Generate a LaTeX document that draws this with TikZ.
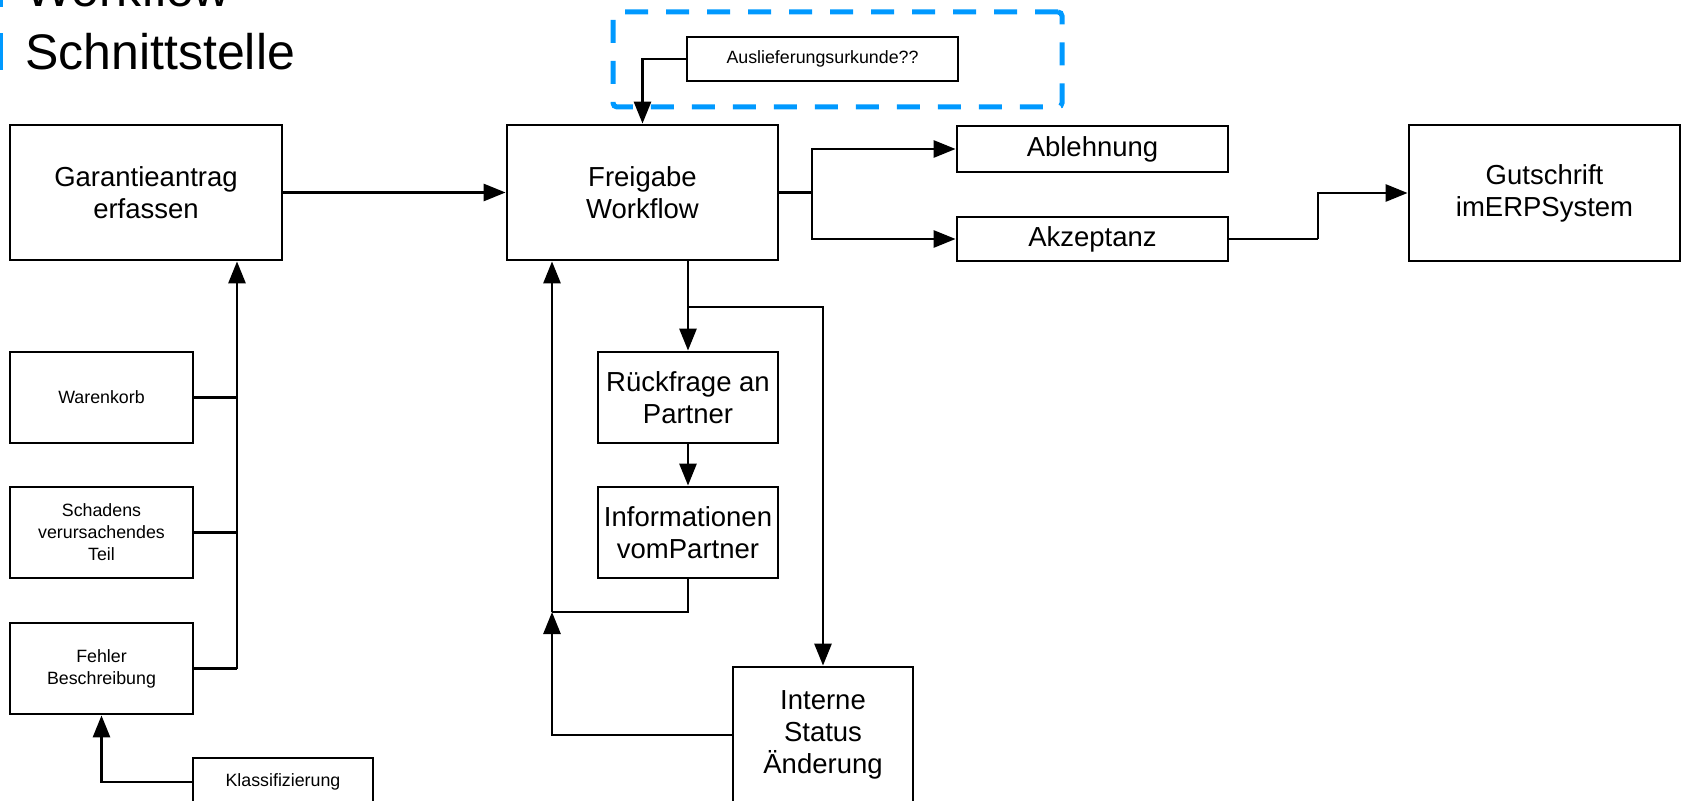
\documentclass[tikz,border=0pt]{standalone}
\usepackage{fontspec}
\setmainfont{Liberation Sans}
\usetikzlibrary{arrows.meta,calc}
\definecolor{legblue}{RGB}{0,153,255}
\begin{document}
\begin{tikzpicture}[x=0.5pt,y=-0.5pt,
  box/.style={draw, line width=1.4pt, inner sep=0pt, align=center, anchor=center},
  big/.style={font=\fontsize{13.75}{16}\selectfont},
  small/.style={font=\fontsize{8.9}{11}\selectfont},
  arr/.style={-{Triangle[length=11pt,width=8.5pt]}, line width=1.4pt},
  ln/.style={line width=1.4pt},
  grpbox/.style={draw=legblue, line width=2.5pt, dash pattern=on 11.5pt off 9pt, rounded corners=2pt, inner sep=0pt, anchor=center},
  legtext/.style={anchor=base west, inner sep=0pt, font=\fontsize{25}{30}\selectfont}
]
\useasboundingbox (0,0) rectangle (1685,801);
\clip (0,0) rectangle (1685,801);

% legend
\fill[legblue] (-10,-30) rectangle (3,7);
\fill[legblue] (-10,33) rectangle (3,70);
\node[legtext] (lw) at (25,7) {Workflow};
\node[legtext] (ls) at (25,70) {Schnittstelle};

% group box
\node[grpbox, minimum width=224.5pt, minimum height=47.5pt] (grp) at (837.5,59.5) {};

% nodes
\node[box,big,minimum width=136pt,minimum height=67.5pt] (gar) at (146,192.5) {Garantieantrag\\erfassen};
\node[box,big,minimum width=135.5pt,minimum height=67.5pt] (fre) at (642.5,192.5) {Freigabe\\Workflow};
\node[box,big,minimum width=135.5pt,minimum height=68pt] (gut) at (1544.5,193) {Gutschrift\\imERPSystem};
\node[box,big,minimum width=135.5pt,minimum height=23pt] (abl) at (1092.5,149) {Ablehnung};
\node[box,big,minimum width=135.5pt,minimum height=22pt] (akz) at (1092.5,239) {Akzeptanz};
\node[box,small,minimum width=135.5pt,minimum height=22pt] (aus) at (822.5,59) {Auslieferungsurkunde??};
\node[box,small,minimum width=91.5pt,minimum height=45.5pt] (war) at (101.5,397.5) {Warenkorb};
\node[box,small,minimum width=91.5pt,minimum height=45.5pt] (sch) at (101.5,532.5) {Schadens\\verursachendes\\Teil};
\node[box,small,minimum width=91.5pt,minimum height=45.5pt] (feh) at (101.5,668.5) {Fehler\\Beschreibung};
\node[box,small,minimum width=90pt,minimum height=24pt] (kla) at (283,782) {Klassifizierung};
\node[box,big,minimum width=90pt,minimum height=45.5pt] (rue) at (688,397.5) {Rückfrage an\\Partner};
\node[box,big,minimum width=90pt,minimum height=45.5pt] (inf) at (688,532.5) {Informationen\\vomPartner};
\node[box,big,minimum width=90pt,minimum height=68pt] (int) at (823,735) {Interne\\Status\\Änderung};

% junction coordinates
\coordinate (bus) at (237,668.5);
\coordinate (j1) at (812,192.5);
\coordinate (j2) at (688,307);
\coordinate (j3) at (552,612);
\coordinate (j4) at (1318,239);

% connectors
\draw[arr] (gar.east) -- (fre.west);
\draw[arr] (aus.west) -| (fre.north);
\draw[ln] (fre.east) -- (j1);
\draw[arr] (j1) |- (abl.west);
\draw[arr] (j1) |- (akz.west);
\draw[ln] (akz.east) -- (j4);
\draw[arr] (j4) |- (gut.west);

\draw[ln] (war.east) -- (war.east -| bus);
\draw[ln] (sch.east) -- (sch.east -| bus);
\draw[ln] (feh.east) -- (bus);
\draw[arr] (bus) -- (bus |- gar.south);
\draw[arr] (kla.west) -| (feh.south);

\draw[arr] (fre.south -| rue.north) -- (rue.north);
\draw[arr] (j2) -| (int.north);
\draw[arr] (rue.south) -- (inf.north);
\draw[ln] (inf.south) |- (j3);
\draw[arr] (j3) -- (j3 |- fre.south);
\draw[arr] (int.west) -| (j3);
\end{tikzpicture}
\end{document}
